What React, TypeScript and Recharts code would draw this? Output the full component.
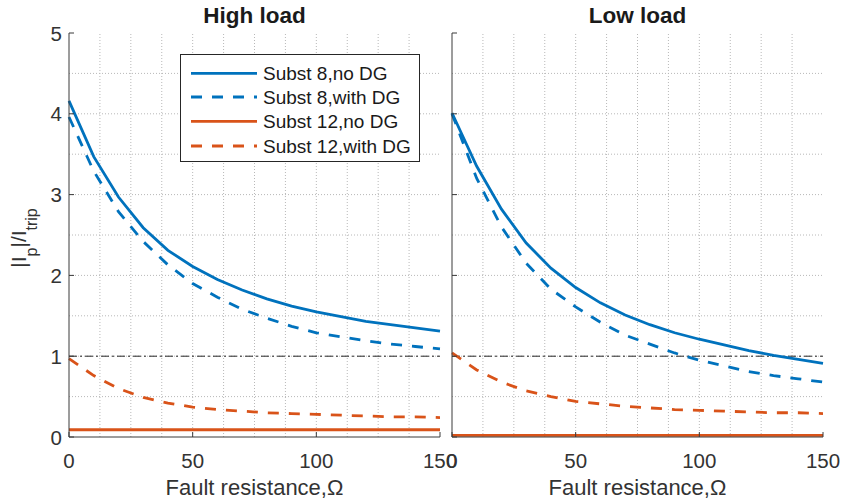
import React from 'react';
import { LineChart, Line, XAxis, YAxis, ReferenceLine } from 'recharts';

// Fault resistance (Ohm) samples
const resistance = [0, 10, 20, 30, 40, 50, 60, 70, 80, 90, 100, 110, 120, 130, 140, 150];

// High load panel
const highSubst8NoDG = [4.16, 3.47, 2.97, 2.59, 2.31, 2.11, 1.95, 1.82, 1.71, 1.62, 1.55, 1.49, 1.43, 1.39, 1.35, 1.31];
const highSubst8WithDG = [3.96, 3.29, 2.79, 2.42, 2.13, 1.9, 1.73, 1.58, 1.47, 1.37, 1.29, 1.24, 1.19, 1.15, 1.12, 1.09];
const highSubst12NoDG = [0.09, 0.09, 0.09, 0.09, 0.09, 0.09, 0.09, 0.09, 0.09, 0.09, 0.09, 0.09, 0.09, 0.09, 0.09, 0.09];
const highSubst12WithDG = [0.97, 0.76, 0.6, 0.49, 0.42, 0.37, 0.34, 0.32, 0.3, 0.29, 0.28, 0.27, 0.26, 0.25, 0.25, 0.24];

// Low load panel
const lowSubst8NoDG = [4.01, 3.35, 2.82, 2.4, 2.09, 1.85, 1.66, 1.51, 1.39, 1.29, 1.21, 1.14, 1.07, 1.01, 0.96, 0.91];
const lowSubst8WithDG = [4.0, 3.2, 2.6, 2.15, 1.83, 1.61, 1.42, 1.26, 1.15, 1.04, 0.95, 0.88, 0.81, 0.76, 0.72, 0.68];
const lowSubst12NoDG = [0.02, 0.02, 0.02, 0.02, 0.02, 0.02, 0.02, 0.02, 0.02, 0.02, 0.02, 0.02, 0.02, 0.02, 0.02, 0.02];
const lowSubst12WithDG = [1.04, 0.83, 0.68, 0.57, 0.5, 0.44, 0.41, 0.38, 0.36, 0.34, 0.33, 0.32, 0.31, 0.3, 0.3, 0.29];

const seriesNames = ['Subst 8,no DG', 'Subst 8,with DG', 'Subst 12,no DG', 'Subst 12,with DG'];
const seriesColors = ['#0072BD', '#0072BD', '#D95319', '#D95319'];
const seriesDashed = [false, true, false, true];

const panelTitles = ['High load', 'Low load'];
const xTicks = [0, 50, 100, 150];
const yTicks = [0, 1, 2, 3, 4, 5];
const xGrid = [12.5, 25, 37.5, 50, 62.5, 75, 87.5, 100, 112.5, 125, 137.5];
const yGrid = [0.5, 1, 1.5, 2, 2.5, 3, 3.5, 4, 4.5];
const thresholdLevel = 1;
const xLabel = 'Fault resistance,\u03A9';

const FONT = '"Liberation Sans", Arial, Helvetica, sans-serif';
const AXIS = '#3a3a3a';
const TEXT = '#333333';
const DASH = '11 10';

const buildRows = (s: number[][]) =>
  resistance.map((r, i) => ({ r, s0: s[0][i], s1: s[1][i], s2: s[2][i], s3: s[3][i] }));

const highRows = buildRows([highSubst8NoDG, highSubst8WithDG, highSubst12NoDG, highSubst12WithDG]);
const lowRows = buildRows([lowSubst8NoDG, lowSubst8WithDG, lowSubst12NoDG, lowSubst12WithDG]);

const BottomTick = (p: any) => (
  <g>
    <line x1={p.x} y1={p.y} x2={p.x} y2={p.y - 5} stroke={AXIS} strokeWidth={1} />
    <text x={p.x} y={p.y + 31} textAnchor="middle" fontFamily={FONT} fontSize={20.5} fill={TEXT}>
      {p.payload.value}
    </text>
  </g>
);
const TopTick = (p: any) => (
  <line x1={p.x} y1={p.y} x2={p.x} y2={p.y + 5} stroke={AXIS} strokeWidth={1} />
);
const LeftTick = (p: any, showLabel: boolean) => (
  <g>
    <line x1={p.x} y1={p.y} x2={p.x + 5} y2={p.y} stroke={AXIS} strokeWidth={1} />
    {showLabel && (
      <text x={p.x - 7} y={p.y + 7.5} textAnchor="end" fontFamily={FONT} fontSize={20.5} fill={TEXT}>
        {p.payload.value}
      </text>
    )}
  </g>
);
const RightTick = (p: any) => (
  <line x1={p.x} y1={p.y} x2={p.x - 5} y2={p.y} stroke={AXIS} strokeWidth={1} />
);

const Panel = ({ rows, showYLabels, left }: { rows: any[]; showYLabels: boolean; left: number }) => (
  <div style={{ position: 'absolute', left, top: 0 }}>
    <LineChart width={480} height={504} data={rows} margin={{ top: 33, right: 40, bottom: 37, left: 0 }}>
      <XAxis
        dataKey="r"
        type="number"
        domain={[0, 150]}
        ticks={xTicks}
        height={30}
        tickSize={0}
        tickMargin={0}
        tickLine={false}
        axisLine={{ stroke: AXIS, strokeWidth: 1 }}
        tick={(p: any) => <BottomTick {...p} />}
        interval={0}
      />
      <XAxis
        xAxisId="top"
        orientation="top"
        type="number"
        domain={[0, 150]}
        ticks={xTicks}
        height={0}
        tickSize={0}
        tickMargin={0}
        tickLine={false}
        axisLine={{ stroke: AXIS, strokeWidth: 1 }}
        tick={(p: any) => <TopTick {...p} />}
        interval={0}
      />
      <YAxis
        type="number"
        domain={[0, 5]}
        ticks={yTicks}
        width={69}
        tickSize={0}
        tickMargin={0}
        tickLine={false}
        axisLine={{ stroke: AXIS, strokeWidth: 1 }}
        tick={(p: any) => LeftTick(p, showYLabels)}
        interval={0}
      />
      <YAxis
        yAxisId="right"
        orientation="right"
        type="number"
        domain={[0, 5]}
        ticks={yTicks}
        width={0}
        tickSize={0}
        tickMargin={0}
        tickLine={false}
        axisLine={{ stroke: AXIS, strokeWidth: 1 }}
        tick={(p: any) => <RightTick {...p} />}
        interval={0}
      />
      {xGrid.map((v) => (
        <ReferenceLine key={'gx' + v} x={v} stroke="#b8b8b8" strokeDasharray="1 2" strokeWidth={1} />
      ))}
      {yGrid.map((v) => (
        <ReferenceLine key={'gy' + v} y={v} stroke="#b8b8b8" strokeDasharray="1 2" strokeWidth={1} />
      ))}
      <ReferenceLine y={thresholdLevel} stroke="#262626" strokeDasharray="8 3 2 3" strokeWidth={1} />
      {seriesNames.map((name, i) => (
        <Line
          key={name}
          name={name}
          dataKey={'s' + i}
          type="linear"
          stroke={seriesColors[i]}
          strokeWidth={2.8}
          strokeDasharray={seriesDashed[i] ? DASH : undefined}
          dot={false}
          activeDot={false}
          isAnimationActive={false}
        />
      ))}
    </LineChart>
  </div>
);

const panelCenters = [254.5, 637.5];
const legendRowsY = [73.3, 97, 121.3, 146];

export default function App() {
  return (
    <div style={{ position: 'absolute', left: 0, top: 0, width: 843, height: 504, background: '#fff', overflow: 'hidden' }}>
      <Panel rows={highRows} showYLabels={true} left={0} />
      <Panel rows={lowRows} showYLabels={false} left={383} />
      <svg width={843} height={504} style={{ position: 'absolute', left: 0, top: 0, pointerEvents: 'none' }}>
        {panelTitles.map((t, i) => (
          <text key={t} x={panelCenters[i]} y={23} textAnchor="middle" fontFamily={FONT} fontWeight="bold" fontSize={22.5} fill="#1a1a1a">
            {t}
          </text>
        ))}
        {panelCenters.map((c) => (
          <text key={'xl' + c} x={c} y={495} textAnchor="middle" fontFamily={FONT} fontSize={22} fill={TEXT}>
            {xLabel}
          </text>
        ))}
        <text transform="translate(26,238) rotate(-90)" textAnchor="middle" fontFamily={FONT} fontSize={21} fill={TEXT}>
          <tspan>|I</tspan>
          <tspan fontSize={16} dy={11}>p</tspan>
          <tspan dy={-11}>|/I</tspan>
          <tspan fontSize={16} dy={11}>trip</tspan>
        </text>
        <rect x={180.5} y={54.5} width={239} height={107} fill="#fff" stroke="#262626" strokeWidth={1} />
        {seriesNames.map((name, i) => (
          <g key={'lg' + name}>
            <line
              x1={191}
              x2={257}
              y1={legendRowsY[i]}
              y2={legendRowsY[i]}
              stroke={seriesColors[i]}
              strokeWidth={2.8}
              strokeDasharray={seriesDashed[i] ? DASH : undefined}
            />
            <text x={263} y={legendRowsY[i] + 6.8} fontFamily={FONT} fontSize={19} fill="#1a1a1a">
              {name}
            </text>
          </g>
        ))}
      </svg>
    </div>
  );
}
